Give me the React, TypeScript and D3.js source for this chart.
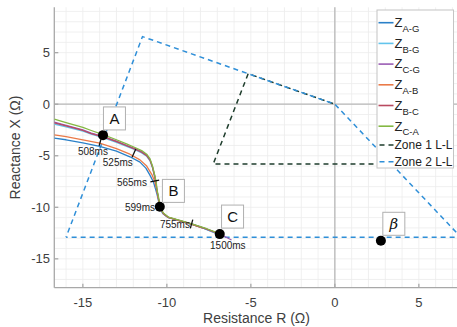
import React from 'react';
import * as d3 from 'd3';

type Pt = [number, number];

// impedance trajectories (R, X) in ohms
const zAG: Pt[] = [[-16.7, -3.3], [-16, -3.45], [-15, -3.75], [-14, -4.08], [-13, -4.55], [-12.2, -5.1], [-11.6, -5.62], [-11.25, -6.2], [-11.0, -6.9], [-10.8, -7.55], [-10.65, -8.35], [-10.52, -9.15], [-10.44, -9.95], [-10.25, -10.6], [-9.95, -10.97], [-9.2, -11.32], [-8.6, -11.62], [-7.8, -12.05], [-7.1, -12.5]];
const zBG: Pt[] = [[-16.7, -1.92], [-16, -2.2], [-15, -2.62], [-14.5, -2.9], [-13.8, -3.25], [-13, -3.7], [-12.4, -4.1], [-11.9, -4.42], [-11.5, -4.72], [-11.2, -5.05], [-11.0, -5.5], [-10.85, -6.2], [-10.74, -7.0], [-10.66, -7.6], [-10.6, -8.35], [-10.5, -9.2], [-10.43, -9.95], [-10.23, -10.6], [-9.93, -10.97], [-9.2, -11.32], [-8.5, -11.64], [-7.7, -12.1], [-7.0, -12.55]];
const zCG: Pt[] = [[-16.7, -1.75], [-16, -2.05], [-15, -2.5], [-14.5, -2.8], [-13.8, -3.12], [-13, -3.58], [-12.4, -3.98], [-11.9, -4.3], [-11.5, -4.6], [-11.2, -4.93], [-11.0, -5.38], [-10.85, -6.1], [-10.72, -6.95], [-10.65, -7.5], [-10.6, -8.3], [-10.5, -9.15], [-10.42, -9.95], [-10.22, -10.58], [-9.92, -10.97], [-9.23, -11.3], [-8.53, -11.62], [-7.64, -12.1], [-6.85, -12.59], [-6.15, -13.17]];
const zAB: Pt[] = [[-16.7, -2.98], [-16, -3.15], [-15, -3.45], [-14, -3.78], [-13, -4.3], [-12.2, -4.85], [-11.6, -5.4], [-11.2, -6.0], [-10.9, -6.8], [-10.72, -7.5], [-10.6, -8.3], [-10.5, -9.15], [-10.42, -9.95], [-10.2, -10.62], [-9.9, -10.99], [-9.2, -11.32], [-8.6, -11.6], [-7.9, -12.0]];
const zBC: Pt[] = [[-16.7, -1.82], [-16, -2.1], [-15, -2.55], [-14.5, -2.85], [-13.8, -3.18], [-13, -3.63], [-12.4, -4.03], [-11.9, -4.36], [-11.5, -4.66], [-11.2, -4.99], [-11.0, -5.44], [-10.85, -6.15], [-10.73, -6.98], [-10.65, -7.55], [-10.6, -8.32], [-10.5, -9.17], [-10.42, -9.95], [-10.22, -10.6], [-9.92, -10.98], [-9.23, -11.31], [-8.53, -11.63], [-7.64, -12.11], [-6.85, -12.6]];
const zCA: Pt[] = [[-16.7, -1.44], [-16, -1.78], [-15, -2.25], [-14.5, -2.55], [-13.8, -2.95], [-13, -3.45], [-12.4, -3.85], [-11.9, -4.2], [-11.5, -4.5], [-11.2, -4.85], [-11.0, -5.3], [-10.85, -6.02], [-10.72, -6.9], [-10.64, -7.5], [-10.58, -8.3], [-10.48, -9.15], [-10.41, -9.94], [-10.21, -10.56], [-9.91, -10.95], [-9.22, -11.28], [-8.52, -11.6], [-7.63, -12.08], [-6.86, -12.56]];

const seriesNames = ['A-G', 'B-G', 'C-G', 'A-B', 'B-C', 'C-A'];
const seriesData = [zAG, zBG, zCG, zAB, zBC, zCA];
const seriesColors = ['#2a80c8', '#62c4ec', '#9a5cb4', '#ea7a48', '#b94a60', '#84b843'];

// protection zones
const zone1: Pt[] = [[3.37, -5.8], [-7.24, -5.8], [-5.16, 2.96], [0, 0]];
const zone2: Pt[] = [[-16, -12.9], [-11.45, 6.56], [0, 0], [7.5, -12.9], [-16, -12.9]];
const zoneNames = ['Zone 1 L-L', 'Zone 2 L-L'];
const zoneColors = ['#1e3d2c', '#2f8fd8'];

// marked points: label, point (r, x), label box centre (br, bx)
const keyPoints = [
  { label: 'A', r: -13.8, x: -3.0, br: -13.12, bx: -1.38, italic: false },
  { label: 'B', r: -10.42, x: -9.94, br: -9.61, bx: -8.41, italic: false },
  { label: 'C', r: -6.85, x: -12.6, br: -6.09, bx: -10.9, italic: false },
  { label: 'β', r: 2.74, x: -13.24, br: 3.51, bx: -11.6, italic: true },
];

// time stamps along the trajectory: tick location and text centre
const timeMarks = [
  { t: '508ms', r: -13.96, x: -3.62, lr: -14.4, lx: -4.63, tick: true },
  { t: '525ms', r: -11.96, x: -4.75, lr: -12.92, lx: -5.7, tick: true },
  { t: '565ms', r: -10.72, x: -7.45, lr: -12.08, lx: -7.64, tick: true },
  { t: '599ms', r: -10.42, x: -9.94, lr: -11.6, lx: -10.06, tick: false },
  { t: '755ms', r: -8.53, x: -11.62, lr: -9.52, lx: -11.71, tick: true },
  { t: '1500ms', r: -6.85, x: -12.6, lr: -6.37, lx: -13.75, tick: false },
];

const xTicks = [-15, -10, -5, 0, 5];
const yTicks = [-15, -10, -5, 0, 5];

const FONT = 'Liberation Sans, Arial, Helvetica, sans-serif';

export default function App() {
  const W = 457, H = 327;
  const left = 54.3, right = 457.5, top = 7.3, bottom = 287.7;
  const x = d3.scaleLinear().domain([-16.7, 7.3]).range([left, right]);
  const y = d3.scaleLinear().domain([-17.8, 9.4]).range([bottom, top]);
  const line = d3.line<Pt>().x(d => x(d[0])).y(d => y(d[1]));

  const gridX = d3.range(-16, 8, 1);
  const gridY = d3.range(-17, 10, 1);

  // perpendicular tick direction from nearest segment of the C-G trajectory
  const tickSeg = (r: number, xv: number) => {
    const px = x(r), py = y(xv);
    let best = 0, bd = Infinity;
    for (let i = 0; i < zCG.length - 1; i++) {
      const mx = (x(zCG[i][0]) + x(zCG[i + 1][0])) / 2;
      const my = (y(zCG[i][1]) + y(zCG[i + 1][1])) / 2;
      const d = (mx - px) ** 2 + (my - py) ** 2;
      if (d < bd) { bd = d; best = i; }
    }
    const dx = x(zCG[best + 1][0]) - x(zCG[best][0]);
    const dy = y(zCG[best + 1][1]) - y(zCG[best][1]);
    const len = Math.hypot(dx, dy) || 1;
    const nx = -dy / len * 4.5, ny = dx / len * 4.5;
    return { x1: px - nx, y1: py - ny, x2: px + nx, y2: py + ny };
  };

  const legX = 377, legY = 10, legW = 76.5, legH = 158;
  const rowY = [22.7, 43.4, 64.1, 84.8, 105.5, 126.2, 145, 161.7];

  return (
    <div style={{ position: 'absolute', left: 0, top: 0 }}>
      <svg width={W} height={H} style={{ display: 'block', background: '#fff' }} fontFamily={FONT}>
        <defs>
          <clipPath id="plot-clip">
            <rect x={left} y={top} width={right - left} height={bottom - top} />
          </clipPath>
        </defs>

        {/* grid */}
        <g stroke="#ececec" strokeWidth={0.8}>
          {gridX.map(v => <line key={'gx' + v} x1={x(v)} x2={x(v)} y1={top} y2={bottom} />)}
          {gridY.map(v => <line key={'gy' + v} x1={left} x2={right} y1={y(v)} y2={y(v)} />)}
        </g>

        {/* zero lines */}
        <g stroke="#b8b8b8" strokeWidth={1.3}>
          <line x1={x(0)} x2={x(0)} y1={top} y2={bottom} />
          <line x1={left} x2={right} y1={y(0)} y2={y(0)} />
        </g>

        {/* axes */}
        <g stroke="#a8a8a8" strokeWidth={1.3}>
          <line x1={left} x2={left} y1={top} y2={bottom} />
          <line x1={left} x2={right} y1={bottom} y2={bottom} />
          {xTicks.map(v => <line key={'xt' + v} x1={x(v)} x2={x(v)} y1={bottom} y2={bottom - 4} />)}
          {yTicks.map(v => <line key={'yt' + v} x1={left} x2={left + 4} y1={y(v)} y2={y(v)} />)}
        </g>
        <g fill="#404040" fontSize={13}>
          {xTicks.map(v => (
            <text key={'xl' + v} x={x(v)} y={307} textAnchor="middle">{v}</text>
          ))}
          {yTicks.map(v => (
            <text key={'yl' + v} x={50} y={y(v)} textAnchor="end" dominantBaseline="central">{v}</text>
          ))}
        </g>
        <text x={256.5} y={323} textAnchor="middle" fontSize={14} fill="#404040">Resistance R (Ω)</text>
        <text transform={`translate(20,147.5) rotate(-90)`} textAnchor="middle" fontSize={14} fill="#404040">Reactance X (Ω)</text>

        <g clipPath="url(#plot-clip)">
          {/* zones */}
          <path d={line(zone1) || ''} fill="none" stroke={zoneColors[0]} strokeWidth={1.5} strokeDasharray="5,4" />
          <path d={line(zone2) || ''} fill="none" stroke={zoneColors[1]} strokeWidth={1.5} strokeDasharray="5,4" strokeDashoffset={4} />

          {/* trajectories */}
          {seriesData.map((s, i) => (
            <path key={seriesNames[i]} d={line(s) || ''} fill="none" stroke={seriesColors[i]} strokeWidth={1.3} strokeLinejoin="round" />
          ))}

          {/* time ticks */}
          {timeMarks.filter(m => m.tick).map(m => {
            const s = tickSeg(m.r, m.x);
            return <line key={'tk' + m.t} {...s} stroke="#111" strokeWidth={1.3} />;
          })}
        </g>

        {/* time labels */}
        <g fontSize={10} fill="#222">
          {timeMarks.map(m => (
            <text key={'tl' + m.t} x={x(m.lr)} y={y(m.lx)} textAnchor="middle" dominantBaseline="central">{m.t}</text>
          ))}
        </g>

        {/* key points and label boxes */}
        {keyPoints.map(p => (
          <g key={'kp' + p.label}>
            <circle cx={x(p.r)} cy={y(p.x)} r={5} fill="#000" />
            <rect x={x(p.br) - 11} y={y(p.bx) - 11.5} width={22} height={23} fill="#fff" stroke="#b0b0b0" strokeWidth={1} />
            <text x={x(p.br)} y={y(p.bx)} textAnchor="middle" dominantBaseline="central" fontSize={15}
              fill="#111" fontStyle={p.italic ? 'italic' : 'normal'}
              fontFamily={p.italic ? 'DejaVu Serif, Liberation Serif, serif' : FONT}>{p.label}</text>
          </g>
        ))}

        {/* legend */}
        <rect x={legX} y={legY} width={legW} height={legH} fill="#fff" stroke="#c4c4c4" strokeWidth={1} />
        {seriesNames.map((n, i) => (
          <g key={'lg' + n}>
            <line x1={legX + 1.5} x2={legX + 16.5} y1={rowY[i]} y2={rowY[i]} stroke={seriesColors[i]} strokeWidth={1.6} />
            <text x={legX + 17.5} y={rowY[i] + 4.3} fontSize={13} fill="#222">
              Z<tspan fontSize={9.5} dy={4.8}>{n}</tspan>
            </text>
          </g>
        ))}
        {zoneNames.map((n, i) => (
          <g key={'lz' + n}>
            <line x1={legX + 1.5} x2={legX + 16.5} y1={rowY[6 + i]} y2={rowY[6 + i]} stroke={zoneColors[i]} strokeWidth={1.5} strokeDasharray="5,4" strokeDashoffset={-1} />
            <text x={legX + 17.5} y={rowY[6 + i] + 4.3} fontSize={12} fill="#222">{n}</text>
          </g>
        ))}
      </svg>
    </div>
  );
}
